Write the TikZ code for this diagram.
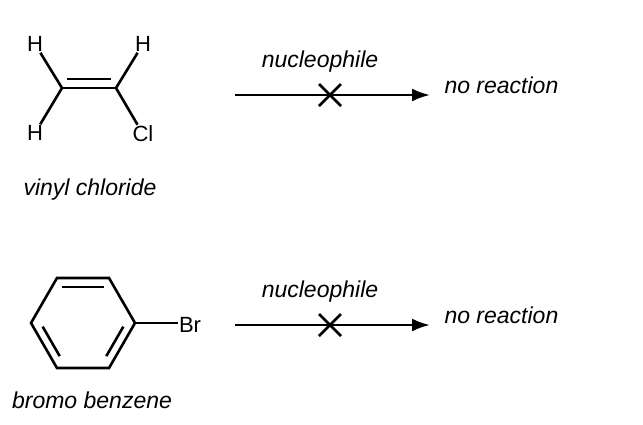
\documentclass[tikz,border=0pt]{standalone}
\usepackage{fontspec}
\setmainfont{Liberation Sans}
\usetikzlibrary{arrows.meta, positioning, calc}

\begin{document}
\begin{tikzpicture}[
  x=1pt, y=-1pt,
  bond/.style={line width=2.6pt},
  atom/.style={inner sep=1pt, font=\fontsize{22}{26}\selectfont},
  lbl/.style={font=\fontsize{23}{27}\selectfont\itshape},
  rxn/.style={line width=2.6pt, -{Latex[length=18pt, width=13pt]}},
  >={Latex}
]
\useasboundingbox (0,0) rectangle (643,424);

% vinyl chloride
\node[atom] (h1) at (35,44) {H};
\node[atom] (h2) at (143,44) {H};
\node[atom] (h3) at (35,133) {H};
\node[atom] (cl) at (143,134) {Cl};
\coordinate (c1) at (62,88);
\coordinate (c2) at (116,88);
\draw[bond] (h1) -- (c1) -- (h3);
\draw[bond] (h2) -- (c2) -- (cl);
\draw[bond] (c1) -- (c2);
\draw[bond] (67,79) -- (111,79);
\node[lbl] (vc) at (90,190) {vinyl chloride};

% bromo benzene
\foreach \i/\a in {1/0, 2/60, 3/120, 4/180, 5/240, 6/300}
  \coordinate (r\i) at ($(83,323)+(\a:52)$);
\draw[bond] (r1) -- (r2) -- (r3) -- (r4) -- (r5) -- (r6) -- cycle;
\draw[bond] ($(83,323)!0.8!(r5)$) -- ($(83,323)!0.8!(r6)$);
\draw[bond] ($(83,323)!0.8!(r3)!0.08!(r4)$) -- ($(83,323)!0.8!(r4)!0.08!(r3)$);
\draw[bond] ($(83,323)!0.8!(r1)!0.08!(r2)$) -- ($(83,323)!0.8!(r2)!0.08!(r1)$);
\node[atom] (br) at (190,325) {Br};
\draw[bond] (r1) -- (br.west |- r1);
\node[lbl] (bb) at (92,400) {bromo benzene};

% reactions
\foreach \y/\n in {95/a, 325/b} {
  \coordinate (s\n) at (235,\y);
  \coordinate (e\n) at (430,\y);
  \draw[rxn] (s\n) -- (e\n);
  \draw[bond] (319,\y-11) -- (341,\y+11) (319,\y+11) -- (341,\y-11);
  \node[lbl] (nu\n) at (320,\y-33) {nucleophile};
  \node[lbl, anchor=west] (nr\n) at (441,\y-10) {no reaction};
}
\end{tikzpicture}
\end{document}
